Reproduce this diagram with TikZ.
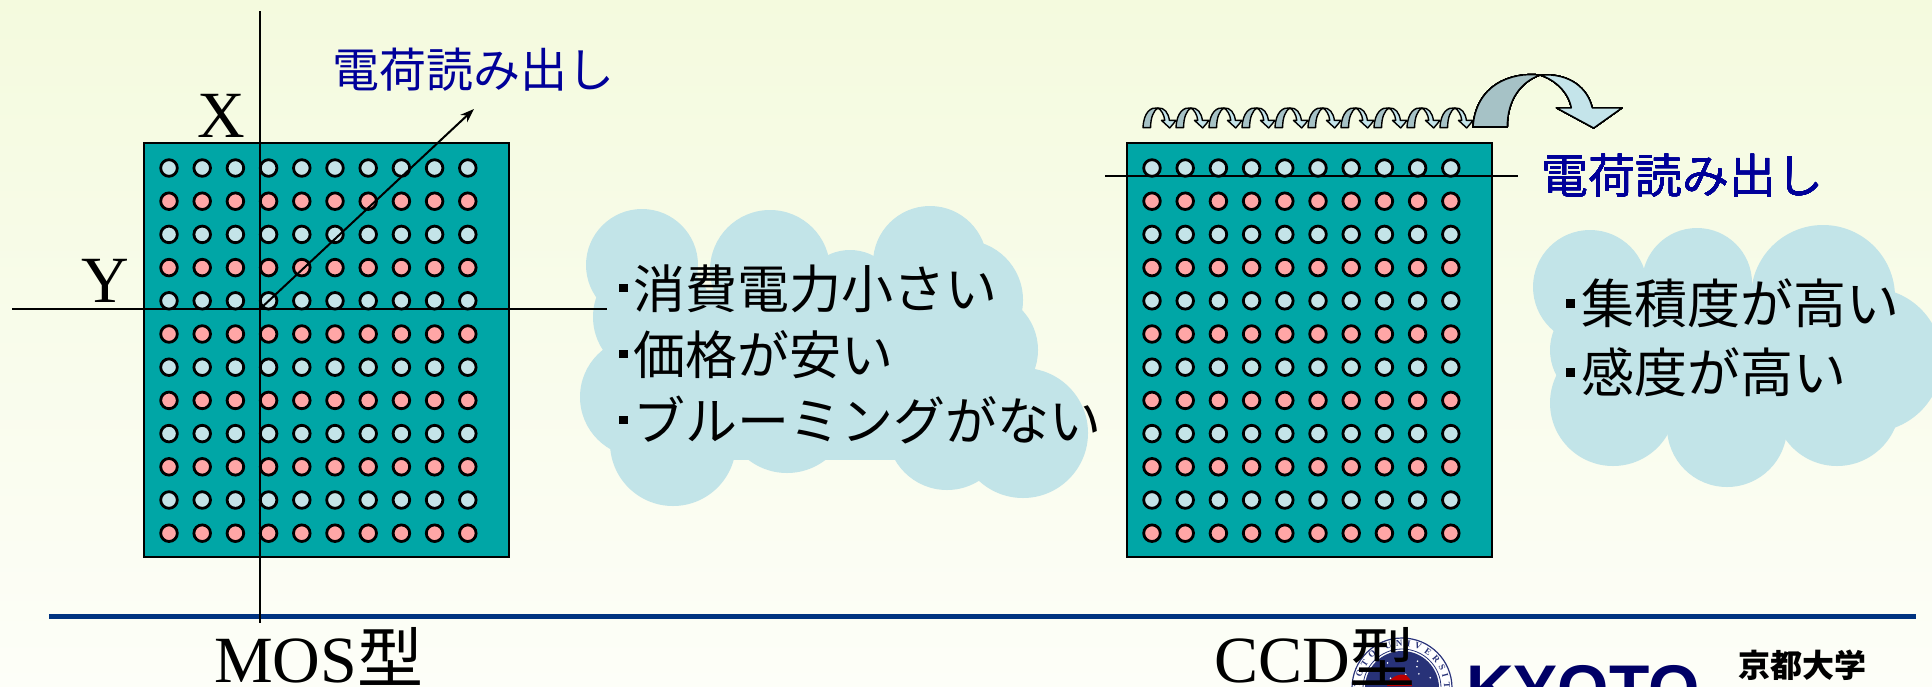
\documentclass[tikz,border=0pt]{standalone}
\usepackage{fontspec}
\setmainfont{Liberation Serif}
\newfontfamily\jp{Noto Sans CJK JP}
\newfontfamily\logofont{Liberation Sans}
\usetikzlibrary{arrows.meta,decorations.text}
\definecolor{bgtop}{RGB}{244,250,222}
\definecolor{bgbot}{RGB}{253,254,248}
\definecolor{chipteal}{RGB}{0,166,166}
\definecolor{dotblue}{RGB}{196,228,232}
\definecolor{dotred}{RGB}{255,166,166}
\definecolor{cloudblue}{RGB}{194,228,232}
\definecolor{readblue}{RGB}{0,0,153}
\definecolor{rulenavy}{RGB}{0,51,128}
\definecolor{hopdark}{RGB}{166,194,198}
\definecolor{hoplight}{RGB}{196,228,234}
\definecolor{sealnavy}{RGB}{40,50,120}
\definecolor{kyotonavy}{RGB}{0,0,102}
\tikzstyle{chip} = [
    rectangle,
    draw=black,
    line width=2.2pt,
    fill=chipteal,
    inner sep=0pt,
    outer sep=0pt,
    minimum width=365pt,
    minimum height=414pt
]
\tikzstyle{dot} = [draw=black, line width=2.8pt]
\tikzstyle{axis} = [line width=2pt, draw=black]
\tikzstyle{cloud} = [fill=cloudblue]
\tikzstyle{merit} = [inner sep=0pt, align=left, anchor=west]
\tikzstyle{readout} = [
    inner sep=0pt,
    text=readblue,
    font=\jp\fontsize{47}{56}\selectfont
]
\tikzstyle{bigserif} = [inner sep=0pt, font=\fontsize{66}{70}\selectfont]
\tikzstyle{hop} = [draw=black, line width=1.4pt, line join=round]

% square bullet in front of each merit
\newcommand{\blt}{\rule[0.3em]{0.16em}{0.16em}\hspace{0.12em}}

% one curved hop arrow in a box of #3 x #4 (y pointing down)
\newcommand{\hoparrow}[4]{%
  \begin{scope}[shift={(#1,#2)}, x=#3pt, y=-#4pt]
    \filldraw[hop, fill=hopdark] (0,0.98) .. controls (0.02,0.19) and (0.25,-0.06) .. (0.45,0)
      .. controls (0.32,0.13) and (0.23,0.47) .. (0.23,0.98) -- cycle;
    \filldraw[hop, fill=hoplight] (0.45,0) .. controls (0.65,-0.04) and (0.77,0.25) .. (0.80,0.62)
      -- (1,0.62) -- (0.81,1) -- (0.56,0.62) -- (0.66,0.62)
      .. controls (0.64,0.32) and (0.55,0.09) .. (0.45,0) -- cycle;
  \end{scope}}

\begin{document}
\begin{tikzpicture}[x=1pt, y=-1pt]
\useasboundingbox (0,0) rectangle (1932,686);
\clip (0,0) rectangle (1932,686);
\shade[top color=bgtop, bottom color=bgbot] (0,0) rectangle (1932,686);

% clouds behind the merits
\foreach \cx/\cy/\rad in {642/265/56, 770/270/60, 930/263/57, 963/300/60,
    980/350/58, 1023/433/65, 947/430/60, 787/410/63, 673/443/63,
    640/397/60, 653/317/60, 850/300/50}
  \fill[cloud] (\cx,\cy) circle (\rad pt);
\fill[cloud] (660,290) rectangle (1000,460);
\foreach \cx/\cy/\rad in {1590/287/57, 1697/283/55, 1823/297/72,
    1870/360/72, 1837/403/63, 1727/427/60, 1613/403/63, 1603/350/53}
  \fill[cloud] (\cx,\cy) circle (\rad pt);
\fill[cloud] (1610,290) rectangle (1870,420);

% the two sensor chips
\node[chip] (mos) at (326.5,350) {};
\node[chip] (ccd) at (1309.5,350) {};
\foreach \chipname in {mos,ccd} {
  \begin{scope}[shift={(\chipname.north west)}]
    \foreach \i in {0,...,9}
      \foreach \j in {0,...,5} {
        \draw[dot, fill=dotblue] (25+33.2*\i, 25+66.4*\j) circle (8.3pt);
        \draw[dot, fill=dotred] (25+33.2*\i, 58.2+66.4*\j) circle (8.3pt);
      }
  \end{scope}
}

% footer rule
\coordinate (rulel) at (49,616);
\coordinate (ruler) at (1916,616);
\draw[rulenavy, line width=5pt] (rulel) -- (ruler);

% X/Y addressing of the MOS chip
\coordinate (xtop) at (260,11);
\coordinate (xbot) at (260,623);
\coordinate (yleft) at (12,309);
\coordinate (yright) at (607,309);
\coordinate (orig) at (260,309);
\coordinate (readtip) at (474,109);
\draw[axis] (xtop) -- (xbot);
\draw[axis] (yleft) -- (yright);
\draw[axis, -{Stealth[length=14pt, width=10pt]}] (orig) -- (readtip);
\node[bigserif, anchor=base] (xlab) at (221,137) {X};
\node[bigserif, anchor=base] (ylab) at (105,302) {Y};
\node[readout] (readmos) at (473,70) {電荷読み出し};

% CCD transfer along the top row
\coordinate (ccdl) at (1105,176);
\coordinate (ccdr) at (1518,176);
\draw[axis] (ccdl) -- (ccdr);
\foreach \k in {0,...,9}
  \hoparrow{1143+33*\k}{108}{33}{20}
\hoparrow{1473}{75}{149}{53}
\node[readout] (readccd) at (1682,176) {電荷読み出し};

% merits
\node[merit, font=\jp\fontsize{52}{66}\selectfont] (mosmerit) at (619,354)
  {\blt 消費電力小さい\\ \blt 価格が安い\\ \blt ブルーミングがない};
\node[merit, font=\jp\fontsize{53}{69}\selectfont] (ccdmerit) at (1566,338)
  {\blt 集積度が高い\\ \blt 感度が高い};

% university seal
\begin{scope}[shift={(1402,688)}]
  \fill[white] (0,0) circle (51pt);
  \draw[sealnavy, line width=1.2pt] (0,0) circle (50pt);
  \draw[sealnavy, line width=0.8pt] (0,0) circle (39pt);
  \fill[sealnavy] (0,0) circle (37pt);
  \foreach \a/\d in {20/30, 40/22, 60/31, 75/14, 95/27, 115/20, 130/32,
      150/24, 165/12, 35/9, 100/8, 140/15, 55/26, 85/33, 120/29}
    \fill[white] (\a:\d pt) circle (0.9pt);
  \fill[red!75!black] (-15,-2) .. controls (-13,-10) and (-4,-15) .. (4,-13)
    .. controls (9,-9) and (10,-4) .. (10,-2) -- cycle;
  \path[decorate, decoration={text along path, text align={fit to path},
      text color=sealnavy,
      text={|\fontsize{9}{9}\selectfont\bfseries|KYOTO UNIVERSITY}}]
    (195:42pt) arc[start angle=195, end angle=-15, radius=42pt];
\end{scope}

% captions
\node[bigserif, anchor=base west] (mostype) at (214,682) {MOS{\jp 型}};
\node[bigserif, anchor=base west] (ccdtype) at (1214,682) {CCD{\jp 型}};
\node[inner sep=0pt, anchor=base west, text=kyotonavy,
  font=\logofont\bfseries\fontsize{66}{66}\selectfont] (kyoto) at (1466,711) {KYOTO};
\node[inner sep=0pt, font=\jp\bfseries\fontsize{32}{32}\selectfont] (kyodai) at (1802,665) {京都大学};
\end{tikzpicture}
\end{document}
